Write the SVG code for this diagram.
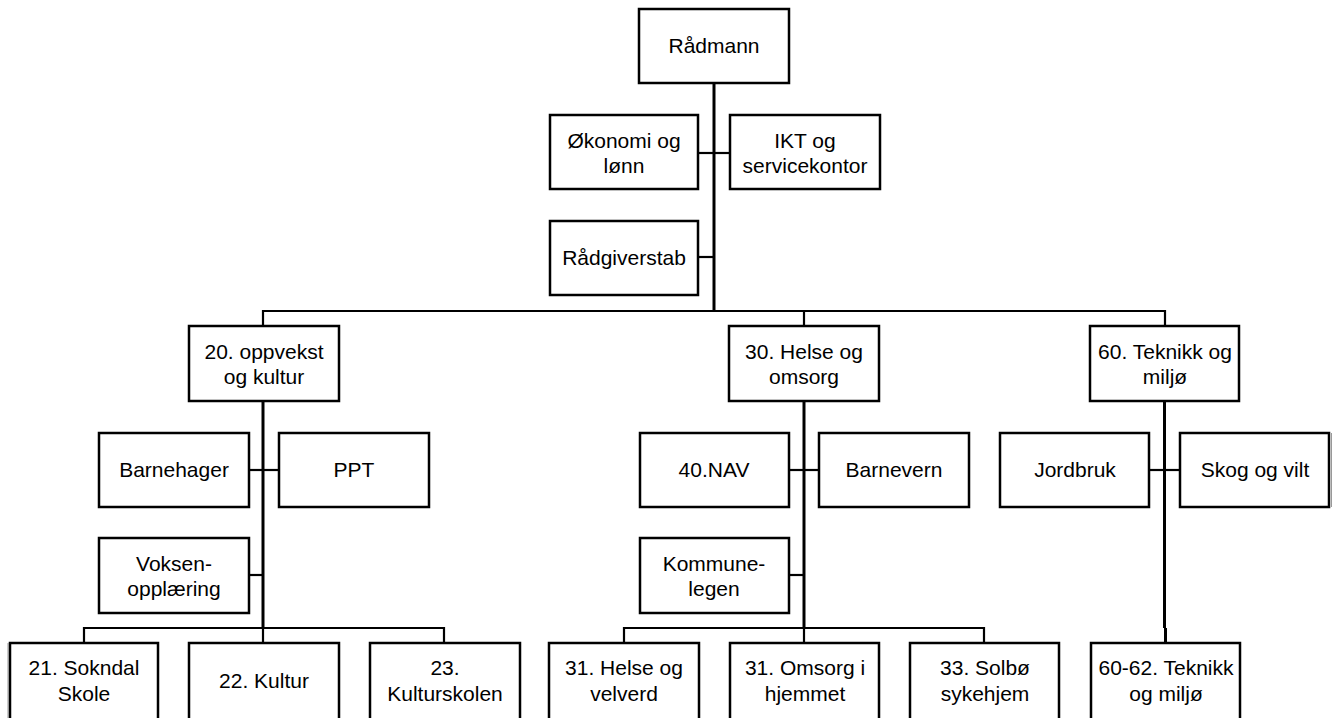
<svg xmlns="http://www.w3.org/2000/svg" width="1335" height="718" viewBox="0 0 1335 718">
<style>
.box{fill:#fff;stroke:#000;stroke-width:2.5}
text{font-family:"Liberation Sans",Arial,sans-serif;font-size:21px;fill:#000;text-anchor:middle}
.c{stroke:#000;fill:none;stroke-width:2.2}
.m{stroke:#000;fill:none;stroke-width:3}
.thin{stroke:#999;stroke-width:1;fill:none}
</style>
<rect width="1335" height="718" fill="#fff"/>
<g id="connectors">
<line class="m" x1="714" y1="83" x2="714" y2="312"/>
<line class="c" x1="698" y1="153" x2="730" y2="153"/>
<line class="c" x1="698" y1="257" x2="714" y2="257"/>
<polyline class="c" points="263,326 263,311 1165,311 1165,326"/>
<line class="c" x1="804" y1="311" x2="804" y2="326"/>
<line class="m" x1="263" y1="401" x2="263" y2="629"/>
<line class="c" x1="249" y1="470" x2="279" y2="470"/>
<line class="c" x1="249" y1="575" x2="263" y2="575"/>
<polyline class="c" points="84,643 84,628 444,628 444,643"/>
<line class="c" x1="263" y1="628" x2="263" y2="643"/>
<line class="m" x1="804" y1="401" x2="804" y2="629"/>
<line class="c" x1="789" y1="470" x2="819" y2="470"/>
<line class="c" x1="789" y1="575" x2="804" y2="575"/>
<polyline class="c" points="624,643 624,628 984,628 984,643"/>
<line class="c" x1="804" y1="628" x2="804" y2="643"/>
<line class="m" x1="1164.5" y1="401" x2="1164.5" y2="628"/>
<line class="m" x1="1165.5" y1="628" x2="1165.5" y2="643"/>
<line class="c" x1="1149" y1="470" x2="1180" y2="470"/>
<line class="thin" x1="8" y1="643" x2="8" y2="718"/>
<line class="thin" x1="1331.5" y1="433" x2="1331.5" y2="507"/>
</g>
<g id="radmann"><rect class="box" x="639" y="9" width="150" height="74"/><text x="714" y="53">Rådmann</text></g>
<g id="okonomi"><rect class="box" x="550" y="115" width="148" height="74"/><text x="624" y="148">Økonomi og</text><text x="624" y="173">lønn</text></g>
<g id="ikt"><rect class="box" x="730" y="115" width="150" height="74"/><text x="805" y="148">IKT og</text><text x="805" y="173">servicekontor</text></g>
<g id="radgiverstab"><rect class="box" x="550" y="221" width="148" height="74"/><text x="624" y="265">Rådgiverstab</text></g>
<g id="oppvekst"><rect class="box" x="189" y="326" width="150" height="75"/><text x="264" y="359">20. oppvekst</text><text x="264" y="384">og kultur</text></g>
<g id="helse"><rect class="box" x="729" y="326" width="150" height="75"/><text x="804" y="359">30. Helse og</text><text x="804" y="384">omsorg</text></g>
<g id="teknikk"><rect class="box" x="1090" y="326" width="149" height="75"/><text x="1165" y="359">60. Teknikk og</text><text x="1165" y="384">miljø</text></g>
<g id="barnehager"><rect class="box" x="99" y="433" width="150" height="74"/><text x="174" y="477">Barnehager</text></g>
<g id="ppt"><rect class="box" x="279" y="433" width="150" height="74"/><text x="354" y="477">PPT</text></g>
<g id="voksen"><rect class="box" x="99" y="538" width="150" height="75"/><text x="174" y="571">Voksen-</text><text x="174" y="596">opplæring</text></g>
<g id="nav"><rect class="box" x="640" y="433" width="149" height="74"/><text x="714" y="477">40.NAV</text></g>
<g id="barnevern"><rect class="box" x="819" y="433" width="150" height="74"/><text x="894" y="477">Barnevern</text></g>
<g id="kommunelegen"><rect class="box" x="640" y="538" width="149" height="75"/><text x="714" y="571">Kommune-</text><text x="714" y="596">legen</text></g>
<g id="jordbruk"><rect class="box" x="1000" y="433" width="149" height="74"/><text x="1075" y="477">Jordbruk</text></g>
<g id="skog"><rect class="box" x="1180" y="433" width="149" height="74"/><text x="1255" y="477">Skog og vilt</text></g>
<g id="sokndal"><rect class="box" x="10" y="643" width="148" height="80"/><text x="84" y="675">21. Sokndal</text><text x="84" y="701">Skole</text></g>
<g id="kultur"><rect class="box" x="189" y="643" width="150" height="80"/><text x="264" y="688">22. Kultur</text></g>
<g id="kulturskolen"><rect class="box" x="370" y="643" width="150" height="80"/><text x="445" y="675">23.</text><text x="445" y="701">Kulturskolen</text></g>
<g id="helsevelverd"><rect class="box" x="549" y="643" width="150" height="80"/><text x="624" y="675">31. Helse og</text><text x="624" y="701">velverd</text></g>
<g id="omsorg"><rect class="box" x="730" y="643" width="149" height="80"/><text x="805" y="675">31. Omsorg i</text><text x="805" y="701">hjemmet</text></g>
<g id="solbo"><rect class="box" x="910" y="643" width="149" height="80"/><text x="985" y="675">33. Solbø</text><text x="985" y="701">sykehjem</text></g>
<g id="teknikk6062"><rect class="box" x="1091" y="643" width="149" height="80"/><text x="1166" y="675">60-62. Teknikk</text><text x="1166" y="701">og miljø</text></g>
</svg>
